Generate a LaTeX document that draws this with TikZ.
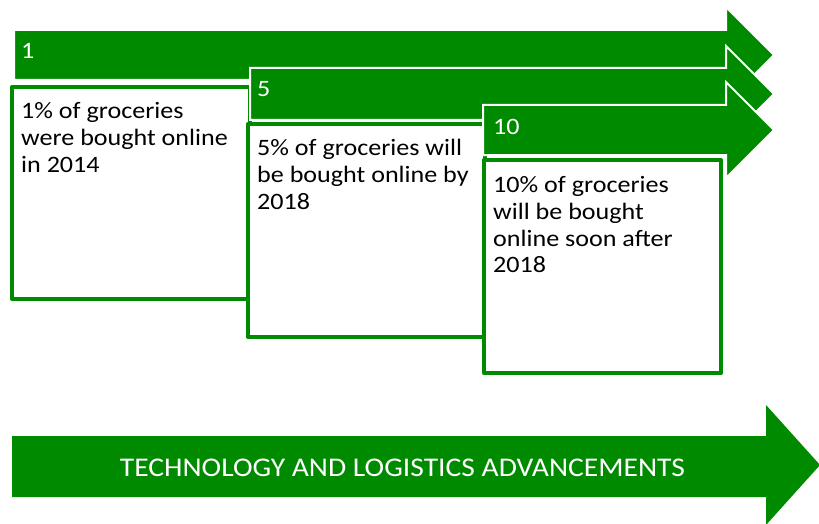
\documentclass[tikz,border=0pt]{standalone}
\usepackage{fontspec}
\newfontfamily\boxfont[FakeStretch=1.11]{Carlito}
\newfontfamily\bandfont[FakeStretch=1.095]{Carlito}
\definecolor{pgreen}{RGB}{0,138,0}
\begin{document}
\begin{tikzpicture}[x=1pt,y=-1pt,
  arrowshape/.style={fill=pgreen,draw=white,line width=2pt,line join=miter},
  stagebox/.style={fill=white,draw=pgreen,line width=4pt,line join=round},
  numlabel/.style={text=white,font=\boxfont\fontsize{23.5}{27}\selectfont,inner sep=0pt,anchor=base west},
  boxtext/.style={text=black,font=\boxfont\fontsize{23.5}{27}\selectfont,inner sep=0pt,anchor=base west},
  bandtext/.style={text=white,font=\bandfont\fontsize{27}{30}\selectfont,inner sep=0pt,anchor=base}]
\useasboundingbox (0,0) rectangle (819,524);
\fill[white] (0,0) rectangle (819,524);
% stage 1
\path[arrowshape] (14,30) -- (726,30) -- (726,7) -- (774,55) -- (726,103) -- (726,80) -- (14,80) -- cycle;
\node[numlabel] (n1) at (21,59) {1};
\path[stagebox] (12,87) rectangle (250,299);
\node[boxtext] (t1) at (21,119) {\begin{tabular}[t]{@{}l@{}}1\% of groceries\\were bought online\\in 2014\end{tabular}};
% stage 2
\path[arrowshape] (250,68) -- (726,68) -- (726,46) -- (774,94) -- (726,142) -- (726,120) -- (250,120) -- cycle;
\node[numlabel] (n2) at (257,97) {5};
\path[stagebox] (248,124) rectangle (485,337);
\node[boxtext] (t2) at (257,156) {\begin{tabular}[t]{@{}l@{}}5\% of groceries will\\be bought online by\\2018\end{tabular}};
% stage 3
\path[arrowshape] (483,105) -- (726,105) -- (726,82) -- (774,130) -- (726,178) -- (726,155) -- (483,155) -- cycle;
\node[numlabel] (n3) at (493,135) {10};
\path[stagebox] (484,160) rectangle (721,373);
\node[boxtext] (t3) at (493,192) {\begin{tabular}[t]{@{}l@{}}10\% of groceries\\will be bought\\online soon after\\2018\end{tabular}};
% bottom band
\path[fill=pgreen] (12,436) -- (766,436) -- (766,405) -- (820,465) -- (766,525) -- (766,497) -- (12,497) -- cycle;
\node[bandtext] (band) at (402.5,476) {TECHNOLOGY AND LOGISTICS ADVANCEMENTS};
\end{tikzpicture}
\end{document}
